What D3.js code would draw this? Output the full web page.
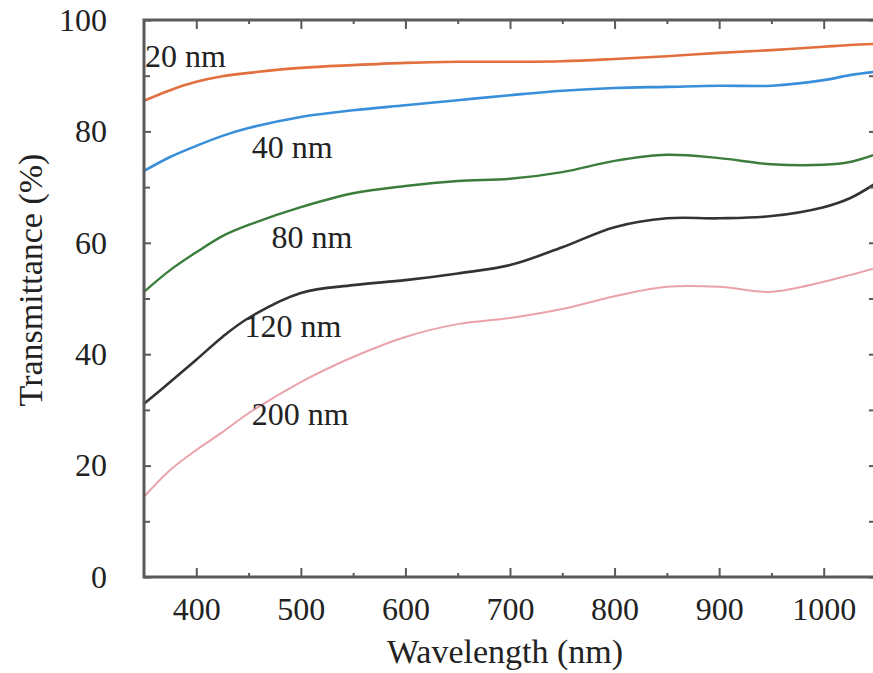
<!DOCTYPE html>
<html>
<head>
<meta charset="utf-8">
<script src="https://cdn.jsdelivr.net/npm/d3@7"></script>
<style>
  html, body { margin: 0; padding: 0; background: #fff; }
  svg { display: block; }
</style>
</head>
<body>
<svg id="chart" width="873" height="673"></svg>
<script>
// data
const wavelengths = [350, 375, 400, 425, 450, 500, 550, 600, 650, 700, 750, 800, 850, 900, 950, 1000, 1025, 1050]

const t20  = [85.5, 87.4, 88.9, 89.9, 90.5, 91.4, 91.9, 92.3, 92.5, 92.5, 92.6, 93.0, 93.5, 94.1, 94.6, 95.2, 95.5, 95.7]
const t40  = [72.9, 75.4, 77.4, 79.2, 80.6, 82.6, 83.8, 84.7, 85.6, 86.5, 87.3, 87.8, 88.0, 88.2, 88.2, 89.2, 90.1, 90.7]
const t80  = [51.2, 55.1, 58.3, 61.2, 63.2, 66.4, 68.9, 70.2, 71.1, 71.5, 72.7, 74.7, 75.8, 75.2, 74.1, 74.0, 74.5, 75.9]
const t120 = [31.1, 35.0, 39.0, 43.1, 46.5, 51.0, 52.4, 53.3, 54.5, 56.0, 59.2, 62.8, 64.4, 64.4, 64.8, 66.4, 68.0, 70.7]
const t200 = [14.4, 19.2, 22.8, 26.0, 29.4, 35.0, 39.5, 43.1, 45.4, 46.5, 48.1, 50.4, 52.1, 52.1, 51.2, 53.0, 54.2, 55.5]

const seriesNames = [`20 nm`, `40 nm`, `80 nm`, `120 nm`, `200 nm`]
const seriesValues = [t20, t40, t80, t120, t200]
const seriesColors = [`#e2703f`, `#3a8fdb`, `#3b7d3b`, `#333333`, `#eaa3aa`]
const seriesWidths = [2.6, 2.6, 2.4, 2.6, 2]

// label anchor points [wavelength, transmittance]
const labelAt = [[351, 91.6], [453, 75.2], [472, 59.0], [446, 43.0], [453, 27.2]]

const xTicks = [400, 500, 600, 700, 800, 900, 1000]
const xMinor = [450, 550, 650, 750, 850, 950]
const yTicks = [0, 20, 40, 60, 80, 100]
const yMinor = [10, 30, 50, 70, 90]

//
// Layout
//

const FONT = `"Liberation Serif", "Times New Roman", serif`
const AXIS_COLOR = `#5a5a5a`
const TEXT_COLOR = `#222`

const svg = d3.select(`#chart`)
const plotLeft = 144, plotRight = 876, plotTop = 20, plotBottom = 577

const x = d3.scaleLinear().domain([350, 1050]).range([plotLeft, plotRight])
const y = d3.scaleLinear().domain([0, 100]).range([plotBottom, plotTop])

//
// Lines
//

const line = d3.line()
  .x((d) => x(d[0]))
  .y((d) => y(d[1]))
  .curve(d3.curveCatmullRom.alpha(0.5))

seriesValues.forEach((vals, i) => {
  svg.append(`path`)
    .datum(wavelengths.map((w, j) => [w, vals[j]]))
    .attr(`d`, line)
    .attr(`fill`, `none`)
    .attr(`stroke`, seriesColors[i])
    .attr(`stroke-width`, seriesWidths[i])
    .attr(`stroke-linecap`, `round`)
})

//
// Axes (ticks pointing inward on all four sides)
//

function drawAxis(axis, transform) {
  const g = svg.append(`g`).attr(`transform`, transform).call(axis)
  g.select(`.domain`).remove()
  g.selectAll(`.tick line`).attr(`stroke`, AXIS_COLOR).attr(`stroke-width`, 2)
  g.selectAll(`.tick text`)
    .style(`font-family`, FONT)
    .attr(`font-size`, 32)
    .attr(`fill`, TEXT_COLOR)
  return g
}

drawAxis(
  d3.axisBottom(x).tickValues(xTicks).tickSizeInner(-9).tickPadding(20).tickFormat(d3.format(`d`)),
  `translate(0,${plotBottom})`)
drawAxis(d3.axisBottom(x).tickValues(xMinor).tickSizeInner(-4).tickFormat(``),
  `translate(0,${plotBottom})`)
drawAxis(d3.axisTop(x).tickValues(xTicks).tickSizeInner(-9).tickFormat(``),
  `translate(0,${plotTop})`)
drawAxis(d3.axisTop(x).tickValues(xMinor).tickSizeInner(-4).tickFormat(``),
  `translate(0,${plotTop})`)

drawAxis(
  d3.axisLeft(y).tickValues(yTicks).tickSizeInner(-7).tickPadding(37).tickFormat(d3.format(`d`)),
  `translate(${plotLeft},0)`)
drawAxis(d3.axisLeft(y).tickValues(yMinor).tickSizeInner(-6).tickFormat(``),
  `translate(${plotLeft},0)`)
drawAxis(d3.axisRight(y).tickValues(yTicks.concat(yMinor)).tickSizeInner(-7).tickFormat(``),
  `translate(${plotRight},0)`)

// frame
svg.append(`path`)
  .attr(`d`, `M${plotRight},${plotTop}H${plotLeft}V${plotBottom}H${plotRight}`)
  .attr(`fill`, `none`)
  .attr(`stroke`, AXIS_COLOR)
  .attr(`stroke-width`, 3)

//
// Labels
//

seriesNames.forEach((name, i) => {
  svg.append(`text`)
    .attr(`x`, x(labelAt[i][0]))
    .attr(`y`, y(labelAt[i][1]))
    .style(`font-family`, FONT)
    .attr(`font-size`, 32)
    .attr(`fill`, TEXT_COLOR)
    .text(name)
})

svg.append(`text`)
  .attr(`x`, (plotLeft + 866) / 2)
  .attr(`y`, 663)
  .attr(`text-anchor`, `middle`)
  .style(`font-family`, FONT)
  .attr(`font-size`, 34)
  .attr(`fill`, TEXT_COLOR)
  .text(`Wavelength (nm)`)

svg.append(`text`)
  .attr(`transform`, `translate(42,280) rotate(-90)`)
  .attr(`text-anchor`, `middle`)
  .style(`font-family`, FONT)
  .attr(`font-size`, 34)
  .attr(`fill`, TEXT_COLOR)
  .text(`Transmittance (%)`)
</script>
</body>
</html>
